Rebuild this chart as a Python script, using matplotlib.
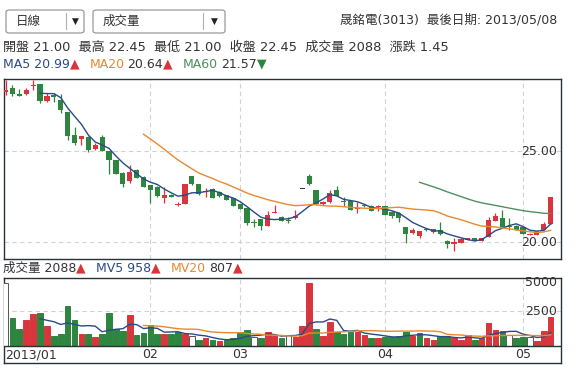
import matplotlib
matplotlib.use('Agg')
import matplotlib.pyplot as plt
from matplotlib.patches import FancyBboxPatch
from matplotlib.lines import Line2D
from matplotlib.transforms import blended_transform_factory
import numpy as np
import pandas as pd

plt.rcParams['font.family'] = ['DejaVu Sans', 'Noto Sans CJK TC']

# ---- data: 晟銘電(3013) daily, 2013/01 .. 2013/05/08 ----
prev_close = 28.37
opens = [28.26, 28.48, 28.13, 28.12, 28.57, 28.66, 27.75, 28.05, 27.80, 27.13,
         25.88, 25.64, 25.79, 25.11, 25.79, 25.00, 24.51, 23.81, 23.35, 23.96,
         23.59, 23.13, 23.04, 22.43, 22.58, 22.03, 22.07, 23.63, 23.17, 22.76,
         22.90, 22.76, 22.58, 22.40, 22.07, 21.85, 21.10, 21.26, 20.90, 21.62,
         21.39, 21.19, 21.30, 22.90, 23.64, 22.86, 22.07, 22.18, 22.86, 22.24,
         22.25, 21.83, 21.99, 21.99, 21.94, 21.99, 21.66, 21.61, 20.81, 20.48,
         20.35, 20.68, 20.53, 20.66, 20.07, 19.87, 19.96, 20.11, 20.22, 20.07,
         20.29, 21.17, 21.34, 20.86, 20.90, 20.84, 20.38, 20.38, 20.66, 21.00]
highs = [28.90, 28.63, 28.41, 28.45, 28.90, 28.70, 28.17, 28.17, 28.13, 27.15,
         26.34, 25.85, 25.82, 25.44, 25.88, 25.02, 24.53, 23.83, 24.23, 24.00,
         23.62, 23.15, 23.06, 23.04, 22.62, 22.20, 23.17, 23.65, 23.19, 22.95,
         22.95, 22.78, 22.60, 22.42, 22.09, 21.87, 21.26, 21.28, 21.70, 22.03,
         21.41, 21.39, 21.76, 22.90, 23.72, 22.88, 22.23, 22.86, 23.08, 22.49,
         22.27, 22.21, 22.03, 22.01, 22.03, 22.01, 21.68, 21.63, 20.83, 20.79,
         20.62, 20.72, 20.72, 21.12, 20.09, 20.24, 20.24, 20.22, 20.24, 20.22,
         21.39, 21.58, 21.76, 21.30, 20.92, 20.86, 20.50, 20.62, 21.12, 22.45]
lows = [28.08, 28.04, 28.00, 28.10, 28.35, 27.62, 27.68, 27.71, 27.09, 25.60,
        25.33, 25.33, 24.97, 25.05, 24.98, 23.74, 23.72, 23.04, 23.23, 23.50,
        23.00, 22.13, 22.50, 22.13, 22.45, 21.97, 22.07, 23.13, 22.60, 22.49,
        22.40, 22.50, 22.29, 21.97, 21.79, 20.93, 20.84, 20.66, 20.88, 21.60,
        21.15, 21.03, 21.28, 22.90, 23.13, 22.05, 22.05, 22.16, 22.52, 21.99,
        21.74, 21.58, 21.90, 21.68, 21.70, 21.46, 21.30, 21.12, 19.93, 20.46,
        20.22, 20.62, 20.51, 20.40, 19.69, 19.51, 19.94, 20.09, 20.05, 20.05,
        20.27, 21.15, 20.82, 20.66, 20.64, 20.43, 20.36, 20.36, 20.64, 21.00]
closes = [28.37, 28.12, 28.01, 28.35, 28.63, 27.75, 28.04, 27.99, 27.25, 25.82,
          25.46, 25.82, 25.05, 25.33, 25.00, 24.51, 23.74, 23.17, 23.83, 23.53,
          23.04, 22.86, 22.54, 22.58, 22.50, 22.10, 23.17, 23.17, 22.62, 22.80,
          22.43, 22.54, 22.31, 21.99, 21.81, 21.06, 21.06, 20.90, 21.48, 21.66,
          21.17, 21.17, 21.44, 22.90, 23.17, 22.07, 22.21, 22.68, 22.54, 22.21,
          21.76, 21.87, 21.97, 21.70, 21.98, 21.48, 21.45, 21.34, 20.44, 20.66,
          20.60, 20.66, 20.70, 20.42, 19.87, 20.02, 20.15, 20.20, 20.07, 20.20,
          21.21, 21.44, 20.84, 20.84, 20.66, 20.45, 20.45, 20.60, 21.00, 22.45]
volumes = [4480, 2020, 1214, 1857, 2285, 2380, 1450, 714, 857, 2856,
           1857, 857, 857, 666, 857, 2380, 1214, 1070, 2213, 785,
           950, 1500, 857, 857, 857, 1020, 857, 714, 430, 595,
           430, 357, 430, 550, 976, 1142, 620, 595, 976, 738,
           595, 785, 666, 1450, 4500, 1214, 735, 1738, 976, 833,
           1020, 1020, 785, 595, 548, 666, 666, 735, 1020, 735,
           900, 595, 430, 700, 735, 595, 430, 760, 405, 548,
           1650, 1142, 1080, 785, 595, 650, 650, 360, 1042, 2088]
month_starts = [0, 21, 34, 55, 75]
month_labels = ['2013/01', '02', '03', '04', '05']

RED = '#d8353d'
GREEN = '#2e8540'
MA5C = '#2a4a86'
MA20C = '#e8892e'
MA60C = '#4f8f5f'
TEXT = '#333333'
BORDER = '#25323a'
GRID = '#d2d2d2'

W, H = 577, 379
fig = plt.figure(figsize=(W / 100, H / 100), dpi=100)


def fx(x):
    return x / W


def fy(y):
    return 1 - y / H


def add_box(x0, y0, x1, y1):
    return fig.add_axes([fx(x0), fy(y1), (x1 - x0) / W, (y1 - y0) / H])


def text_run(x, y, parts, size=9):
    r = fig.canvas.get_renderer()
    for s, color, gap in parts:
        t = fig.text(fx(x), fy(y), s, color=color, fontsize=size, va='center')
        x += t.get_window_extent(renderer=r).width + gap


o = np.array(opens)
h = np.array(highs)
l = np.array(lows)
c = np.array(closes)
v = np.array(volumes)
idx = np.arange(len(c))

# ---- top controls ----
for x0, x1, xd, label in [(6, 84, 66, '日線'), (93, 225, 203, '成交量')]:
    fig.patches.append(FancyBboxPatch((fx(x0), fy(33)), (x1 - x0) / W, 23 / H,
                                      boxstyle='round,pad=0,rounding_size=0.006',
                                      transform=fig.transFigure, facecolor='white',
                                      edgecolor='#9a9a9a', lw=0.9))
    fig.lines.append(Line2D([fx(xd), fx(xd)], [fy(13), fy(29)], color='#b0b0b0',
                            lw=0.8, transform=fig.transFigure))
    fig.text(fx(x0 + 10), fy(21), label, fontsize=9, color=TEXT, va='center')
    fig.text(fx((xd + x1) / 2), fy(21), '▼', fontsize=6.5, color='#222222', va='center', ha='center')

fig.text(fx(557), fy(20), '晟銘電(3013)  最後日期: 2013/05/08', fontsize=9,
         color=TEXT, ha='right', va='center')
fig.text(fx(3), fy(47), '開盤 21.00  最高 22.45  最低 21.00  收盤 22.45  成交量 2088  漲跌 1.45',
         fontsize=9.4, color=TEXT, va='center')
text_run(3, 64, [('MA5 20.99', MA5C, 0), ('▲', RED, 10),
                 ('MA20', MA20C, 3), ('20.64', TEXT, 0), ('▲', RED, 10),
                 ('MA60', MA60C, 3), ('21.57', TEXT, 0), ('▼', GREEN, 0)])
text_run(3, 268, [('成交量 2088', TEXT, 0), ('▲', RED, 10),
                  ('MV5 958', MA5C, 0), ('▲', RED, 10),
                  ('MV20', MA20C, 3), ('807', TEXT, 0), ('▲', RED, 0)])

# ---- price panel ----
ax = add_box(4, 79, 561, 259)
ax.set_xlim(-0.22, 80.5)
ax.set_ylim(19.066, 28.956)
for y in (20, 25):
    ax.axhline(y, color=GRID, lw=0.8, ls=(0, (4, 3)), zorder=1)
for m in month_starts[1:]:
    ax.axvline(m, color=GRID, lw=0.8, ls=(0, (4, 3)), zorder=1)

col = np.where(c > o, RED, np.where(c < o, GREEN, TEXT))
ax.vlines(idx, l, h, colors=col, lw=0.9, zorder=3)
ax.bar(idx, np.maximum(np.abs(c - o), 0.055), bottom=np.minimum(o, c), width=0.75,
       color=col, lw=0, zorder=4)

s = pd.Series(c)
for n, color in [(5, MA5C), (20, MA20C), (60, MA60C)]:
    ma = s.rolling(n).mean()
    ma[:n] = np.nan
    ax.plot(idx, ma, color=color, lw=1, zorder=5)

tr = blended_transform_factory(ax.transAxes, ax.transData)
for y in (25, 20):
    ax.text(1 - 4 / 557, y, f'{y:.2f}', transform=tr, ha='right', va='center',
            fontsize=9, color=TEXT, zorder=6)
ax.set_xticks([])
ax.set_yticks([])
for sp in ax.spines.values():
    sp.set_color(BORDER)
    sp.set_linewidth(1)

# ---- volume panel ----
axv = add_box(4, 278, 561, 363)
axv.set_xlim(-0.22, 80.5)
axv.set_ylim(-1214, 4857)
prev = np.concatenate([[prev_close], c[:-1]])
face = np.where(c > prev, RED, np.where(c < prev, GREEN, 'white'))
edge = np.where(c == prev, '#555555', face)
axv.axhline(2500, color=GRID, lw=0.8, ls=(0, (4, 3)), zorder=1)
axv.vlines(month_starts[1:], 0, 4857, color=GRID, lw=0.8, linestyles=(0, (4, 3)), zorder=1)
axv.bar(idx, v, width=0.82, color=face, edgecolor=edge, lw=0.7, zorder=3)

vs = pd.Series(v, dtype=float)
for n, color in [(5, MA5C), (20, MA20C)]:
    mv = vs.rolling(n).mean()
    mv[:n] = np.nan
    axv.plot(idx, mv, color=color, lw=1, zorder=4)

axv.axhline(0, color=BORDER, lw=1, zorder=5)
trv = blended_transform_factory(axv.transAxes, axv.transData)
axv.text(1 - 4 / 557, 4500, '5000', transform=trv, ha='right', va='center', fontsize=9, color=TEXT)
axv.text(1 - 4 / 557, 2500, '2500', transform=trv, ha='right', va='center', fontsize=9, color=TEXT)
for m, lab in zip(month_starts, month_labels):
    if m == 0:
        axv.text(-0.1, -620, lab, ha='left', va='center', fontsize=9, color=TEXT)
    else:
        axv.text(m, -620, lab, ha='center', va='center', fontsize=9, color=TEXT)
axv.set_xticks([])
axv.set_yticks([])
for sp in axv.spines.values():
    sp.set_color(BORDER)
    sp.set_linewidth(1)

fig.savefig('out.png', dpi=100, facecolor='white')
